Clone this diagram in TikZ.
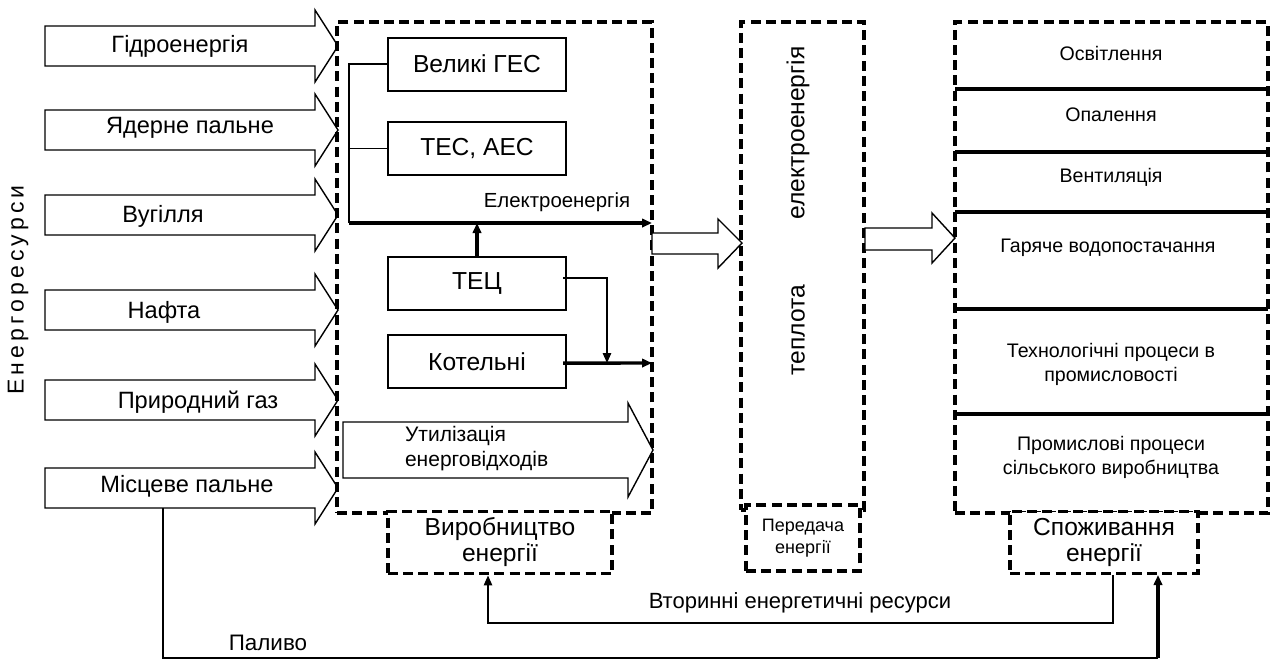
\documentclass[tikz,border=0pt]{standalone}
\usepackage{fontspec}
\setmainfont{Liberation Sans}
\usetikzlibrary{positioning,arrows.meta}

\tikzset{
  dashbox/.style={draw, line width=1.7pt, dash pattern=on 5pt off 2.6pt},
  solidbox/.style={draw, line width=1pt, minimum width=89pt, minimum height=26.5pt,
    font=\fontsize{12.3}{14}\selectfont},
  blockarrow/.style={draw, line width=0.7pt, fill=white},
  bigtext/.style={font=\fontsize{11.8}{13.5}\selectfont},
  smalltext/.style={font=\fontsize{9.8}{12}\selectfont, align=center},
  flow/.style={line width=0.8pt},
  thickflow/.style={line width=1.7pt}
}

\begin{document}
\begin{tikzpicture}[x=0.5pt, y=-0.5pt, >={Triangle[length=5pt,width=4.2pt]}]
\useasboundingbox (0,0) rectangle (1274,661);

% energy resources
\foreach \y in {46,130,215,310,400,488}
  \draw[blockarrow] (45,\y-20) -- (315,\y-20) -- (315,\y-36) -- (338,\y)
    -- (315,\y+36) -- (315,\y+20) -- (45,\y+20) -- cycle;
\node[bigtext] (hydro) at (180,46) {Гідроенергія};
\node[bigtext] (nuclear) at (190,128) {Ядерне пальне};
\node[bigtext] (coal) at (163,216) {Вугілля};
\node[bigtext] (oil) at (164,312) {Нафта};
\node[bigtext] (gas) at (198,402) {Природний газ};
\node[bigtext] (local) at (187,486) {Місцеве пальне};
\node[rotate=90, font=\fontsize{11.5}{13}\selectfont\addfontfeature{LetterSpace=18}] (res) at (18,290) {Енергоресурси};

% production
\node[dashbox, minimum width=157.5pt, minimum height=245.5pt] (prod) at (494.5,267.5) {};
\node[solidbox] (ges) at (477,64) {Великі ГЕС};
\node[solidbox] (tesaes) at (477,148.5) {ТЕС, АЕС};
\node[solidbox] (tec) at (477,283) {ТЕЦ};
\node[solidbox] (kotel) at (477,361.5) {Котельні};
\coordinate (bus) at (349,223);
\coordinate (elout) at (652,223);
\coordinate (heatjoin) at (607,363);
\coordinate (heatout) at (652,363);
\draw[flow] (ges.west) -| (bus);
\draw[flow] (tesaes.west) -- (tesaes.west -| bus);
\draw[thickflow,->] (bus) -- (elout);
\node[font=\fontsize{10.2}{12}\selectfont] (ellbl) at (557,202) {Електроенергія};
\draw[thickflow,->] (tec.north) -- (tec.north |- bus);
\draw[flow,->] ([xshift=-2pt,yshift=2.5pt]tec.east) -| (heatjoin);
\draw[thickflow,->] ([xshift=-2pt,yshift=-0.8pt]kotel.east) -- (heatout);
\draw[blockarrow] (343,422) -- (628,422) -- (628,403) -- (653,450) -- (628,497)
  -- (628,478) -- (343,478) -- cycle;
\node[align=left, anchor=west, font=\fontsize{10.5}{12.5}\selectfont] (util) at (398,449)
  {Утилізація\\енерговідходів};
\node[dashbox, fill=white, minimum width=112pt, minimum height=29.5pt, align=center,
  font=\fontsize{12.3}{13}\selectfont] (prodlbl) at (500,542.5) {Виробництво\\енергії};

% transfer
\draw[blockarrow] (652,233) -- (718,233) -- (718,219) -- (742,243) -- (718,268)
  -- (718,254) -- (652,254) -- cycle;
\node[dashbox, minimum width=61.5pt, minimum height=244pt] (trans) at (802.5,266) {};
\node[rotate=90, font=\fontsize{12.3}{14}\selectfont] (elec) at (798,133) {електроенергія};
\node[rotate=90, font=\fontsize{12.3}{14}\selectfont] (heat) at (798,330) {теплота};
\node[dashbox, fill=white, minimum width=57pt, minimum height=33pt, align=center,
  font=\fontsize{9}{11}\selectfont] (translbl) at (803,538) {Передача\\енергії};
\draw[blockarrow] (865,228) -- (932,228) -- (932,213) -- (955,238) -- (932,263)
  -- (932,250) -- (865,250) -- cycle;

% consumption
\node[dashbox, minimum width=156.5pt, minimum height=245.5pt] (cons) at (1111.5,267.5) {};
\foreach \y in {89,152,212,309,414}
  \draw[line width=1.6pt] (955,\y) -- (1268,\y);
\node[smalltext] (light) at (1111,53) {Освітлення};
\node[smalltext] (heating) at (1111,115) {Опалення};
\node[smalltext] (vent) at (1111,177) {Вентиляція};
\node[smalltext] (water) at (1108,248) {Гаряче водопостачання};
\node[smalltext] (techproc) at (1111,364) {Технологічні процеси в\\промисловості};
\node[smalltext] (agro) at (1111,457) {Промислові процеси\\сільського виробництва};
\node[dashbox, fill=white, minimum width=94pt, minimum height=29.5pt, align=center,
  font=\fontsize{12.3}{13}\selectfont] (conslbl) at (1104,542.5) {Споживання\\енергії};

% feedback
\draw[flow,->] ([xshift=4.5pt]conslbl.south) -- ++(0,48) -| ([xshift=-6pt]prodlbl.south);
\node[font=\fontsize{11}{12.5}\selectfont] (second) at (800,603) {Вторинні енергетичні ресурси};
\coordinate (fuelstart) at (163,508);
\coordinate (fuelturn) at (1158,658);
\draw[flow] (fuelstart) |- (fuelturn);
\draw[thickflow,->] (fuelturn) -- (fuelturn |- conslbl.south);
\node[font=\fontsize{11.2}{12.5}\selectfont] (fuel) at (268,643) {Паливо};
\end{tikzpicture}
\end{document}
